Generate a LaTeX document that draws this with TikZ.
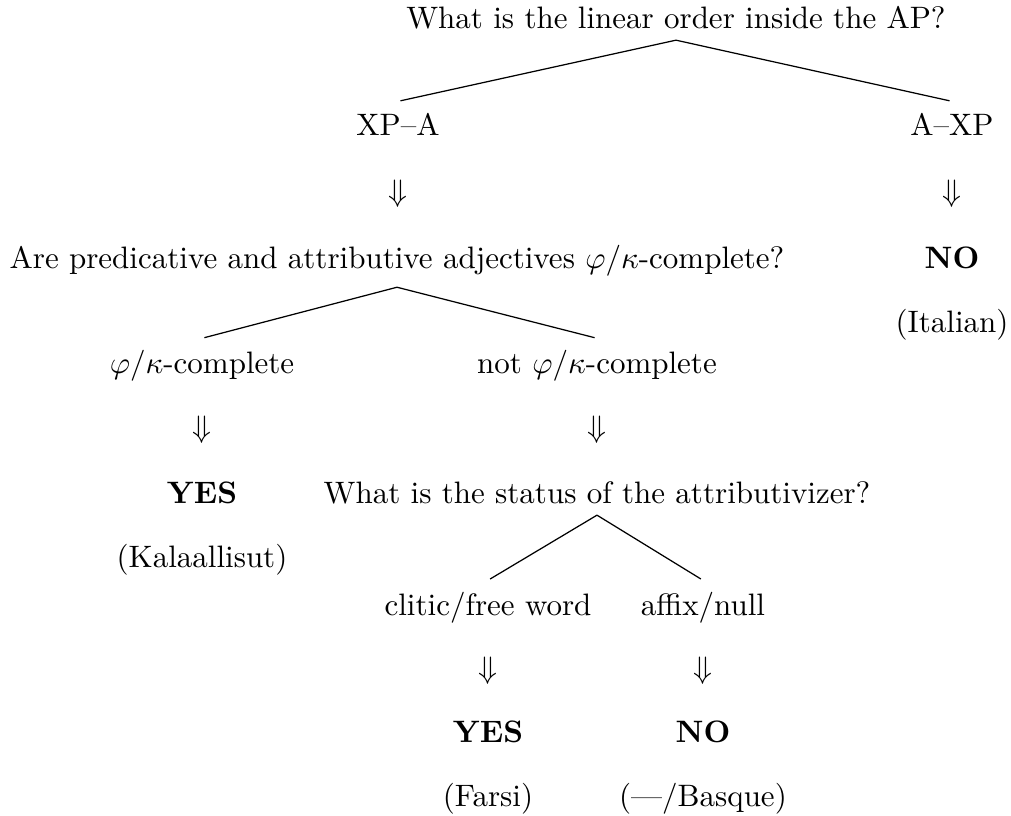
\documentclass[tikz,border=0pt]{standalone}
\begin{document}
\begin{tikzpicture}[x=0.322581pt, y=-0.322581pt,
  lbl/.style={inner sep=3.5pt, anchor=base},
  edge/.style={draw, line width=0.4pt, shorten >=0.8pt}]
\useasboundingbox (0,0) rectangle (1011,815);
\node[lbl] (root) at (676,28) {What is the linear order inside the AP?};
\node[lbl] (xpa) at (398,135) {XP--A};
\node[lbl] (axp) at (952,135) {A--XP};
\node[lbl] (d1) at (398,201) {$\Downarrow$};
\node[lbl] (d2) at (952,201) {$\Downarrow$};
\node[lbl] (q2) at (397,268) {Are predicative and attributive adjectives $\varphi/\kappa$-complete?};
\node[lbl] (no1) at (952,268) {\textbf{NO}};
\node[lbl] (ita) at (952,332) {(Italian)};
\node[lbl] (comp) at (202,373) {$\varphi/\kappa$-complete};
\node[lbl] (ncomp) at (597,373) {not $\varphi/\kappa$-complete};
\node[lbl] (d3) at (202,437) {$\Downarrow$};
\node[lbl] (d4) at (597,437) {$\Downarrow$};
\node[lbl] (yes1) at (202,503) {\textbf{YES}};
\node[lbl] (q3) at (597,503) {What is the status of the attributivizer?};
\node[lbl] (kal) at (202,567) {(Kalaallisut)};
\node[lbl] (cl) at (488,615) {clitic/free word};
\node[lbl] (af) at (703,615) {affix/null};
\node[lbl] (d5) at (488,678) {$\Downarrow$};
\node[lbl] (d6) at (703,678) {$\Downarrow$};
\node[lbl] (yes2) at (488,742) {\textbf{YES}};
\node[lbl] (no2) at (703,742) {\textbf{NO}};
\node[lbl] (far) at (488,806) {(Farsi)};
\node[lbl] (bas) at (703,806) {(---/Basque)};
\draw[edge] (root.south) -- (xpa.north);
\draw[edge] (root.south) -- (axp.north);
\draw[edge] (q2.south) -- (comp.north);
\draw[edge] (q2.south) -- (ncomp.north);
\draw[edge] (q3.south) -- (cl.north);
\draw[edge] (q3.south) -- (af.north);
\end{tikzpicture}
\end{document}
